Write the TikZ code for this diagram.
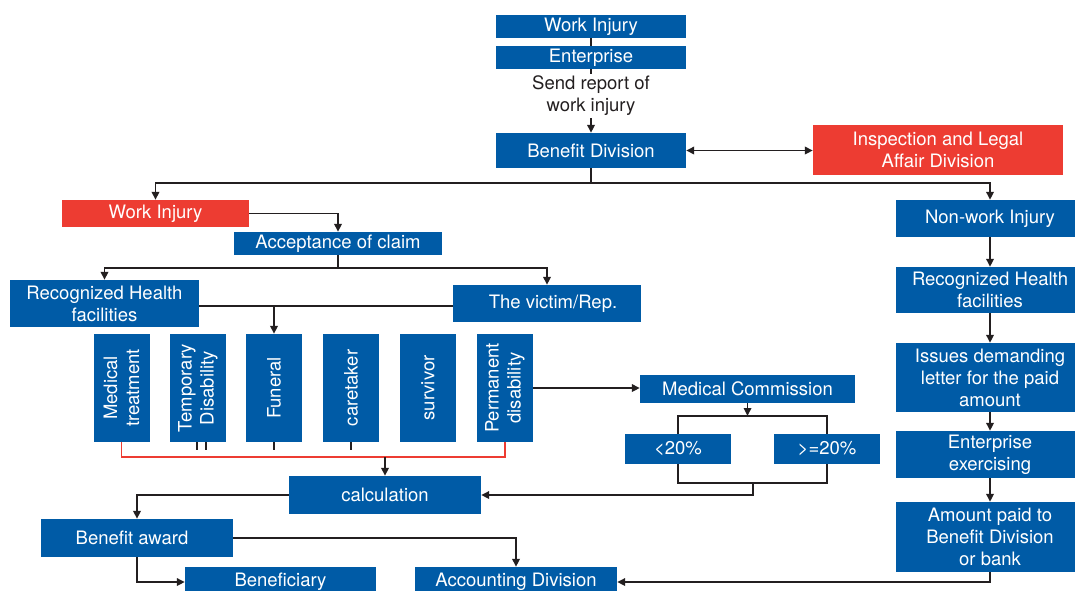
\documentclass[tikz,border=0pt]{standalone}
\usepackage{fontspec}
\setmainfont{TeX Gyre Heros}
\usetikzlibrary{arrows.meta,calc,backgrounds}
\definecolor{boxblue}{RGB}{0,91,166}
\definecolor{boxred}{RGB}{237,60,50}
\definecolor{ink}{RGB}{35,31,32}

\begin{document}
\begin{tikzpicture}[x=1pt,y=-1pt,
  font=\fontsize{18.5}{22}\selectfont,
  box/.style={fill=boxblue,text=white,inner sep=0pt,align=center},
  redbox/.style={box,fill=boxred},
  vbox/.style={box,minimum width=56pt,minimum height=108pt},
  vtext/.style={text=white,rotate=90,align=center,inner sep=0pt},
  link/.style={draw=ink,line width=1.7pt},
  arr/.style={link,-{Triangle[length=8pt,width=7.5pt]}},
  darr/.style={link,{Triangle[length=8pt,width=7.5pt]}-{Triangle[length=8pt,width=7.5pt]}},
  redlink/.style={draw=boxred,line width=1.7pt}
]
\clip (0,0) rectangle (1075,590);
\fill[white] (0,0) rectangle (1075,590);

% top chain
\node[box,minimum width=190pt,minimum height=23pt] (wi1) at (591,26.5) {Work Injury};
\node[box,minimum width=190pt,minimum height=23pt] (ent) at (591,57.5) {Enterprise};
\node[text=ink,align=center,inner sep=2pt] (rep) at (591,96) {Send report of\\work injury};
\node[box,minimum width=190pt,minimum height=35pt] (bd) at (591,150.5) {Benefit Division};
\node[redbox,minimum width=250pt,minimum height=50pt] (ila) at (938,150) {Inspection and Legal\\Affair Division};

% work injury branch
\node[redbox,minimum width=187pt,minimum height=27pt] (wi2) at (155.5,213.5) {Work Injury};
\node[box,minimum width=208pt,minimum height=23pt] (acc) at (338,243.5) {Acceptance of claim};
\node[box,minimum width=189pt,minimum height=47pt] (rhf) at (104.5,303.5) {Recognized Health\\facilities};
\node[box,minimum width=188pt,minimum height=37pt] (vic) at (547,303.5) {\hspace*{12pt}The victim/Rep.};

% benefit types
\node[vbox] (med) at (121.5,388) {};
\node[vbox] (tem) at (198,388) {};
\node[vbox] (fun) at (274,388) {};
\node[vbox] (care) at (351,388) {};
\node[vbox] (surv) at (428,388) {};
\node[vbox] (perm) at (505,388) {};
\node[vtext] at (med) {Medical\\treatment};
\node[vtext] at (tem) {Temporary\\Disability};
\node[vtext] at (fun) {Funeral};
\node[vtext] at (care) {caretaker};
\node[vtext] at (surv) {survivor};
\node[vtext] at (perm) {Permanent\\disability};

% medical commission
\node[box,minimum width=215pt,minimum height=28pt] (mc) at (747.5,389) {Medical Commission};
\node[box,minimum width=106pt,minimum height=30pt] (lt) at (678,449) {<20\%};
\node[box,minimum width=106pt,minimum height=30pt] (ge) at (827,449) {>=20\%};

% calculation and payout
\node[box,minimum width=192pt,minimum height=38pt] (calc) at (385,495) {calculation};
\node[box,minimum width=192pt,minimum height=38pt] (ba) at (137,538) {Benefit award\hspace*{10pt}};
\node[box,minimum width=191pt,minimum height=30pt] (ben) at (280.5,582) {Beneficiary};
\node[box,minimum width=202pt,minimum height=30pt] (accd) at (516,582) {Accounting Division};

% non-work injury column
\node[box,minimum width=188pt,minimum height=37pt] (nw) at (990,218.5) {Non-work Injury};
\node[box,minimum width=188pt,minimum height=46pt] (rhf2) at (990,290) {Recognized Health\\facilities};
\node[box,minimum width=188pt,minimum height=69pt] (iss) at (990,377.5) {Issues demanding\\letter for the paid\\amount};
\node[box,minimum width=188pt,minimum height=47pt] (entx) at (990,454.5) {Enterprise\\exercising};
\node[box,minimum width=188pt,minimum height=70pt] (amt) at (990,537) {Amount paid to\\Benefit Division\\or bank};

% connectors
\draw[link] (wi1) -- (ent);
\draw[link] (ent) -- (rep);
\draw[arr] (rep) -- (bd);
\draw[darr] (bd.east) -- (bd.east -| ila.west);

\coordinate (j1) at (591,183);
\draw[link] (bd) -- (j1);
\draw[arr] (j1) -| (wi2.north);
\draw[arr] (j1) -| (nw.north);

\draw[arr] (wi2.east) -| (acc.north);
\coordinate (j2) at (338,268);
\draw[link] (acc) -- (j2);
\draw[arr] (j2) -| (rhf.north);
\draw[arr] (j2) -| (vic.north);

\draw[link] ($(rhf.east)+(0,2.5)$) -- ($(vic.west)+(0,2.5)$);
\draw[arr] ($(fun.north |- rhf.east)+(0,2.5)$) -- (fun.north);

\begin{pgfonlayer}{background}
\draw[link] ($(med.north east)+(0,11)$) -- ($(perm.north west)+(0,11)$);
\end{pgfonlayer}

% short stubs under the boxes
\draw[link] ($(tem.south)+(-1,0)$) -- ++(0,8);
\draw[link] ($(tem.south)+(8,0)$) -- ++(0,8);
\draw[link] (fun.south) -- ++(0,8);
\draw[link] (care.south) -- ++(0,8);

% red collector
\draw[redlink] (med.south) -- ++(0,15) -| (perm.south);
\coordinate (j3) at (385,457);
\draw[arr] (j3) -- (calc.north);

\draw[arr] (perm.east) -- (perm.east -| mc.west);
\coordinate (j4) at (747.5,416);
\draw[arr] (mc.south) -- (j4);
\draw[link] (lt.north) |- (ge.north |- j4) -- (ge.north);
\draw[link] (lt.south) -- ++(0,19) -| (ge.south);
\coordinate (j5) at (753,483);
\draw[arr] (j5) |- (calc.east);

\draw[arr] (calc.west) -| (ba.north);
\draw[arr] (ba.east) -| (accd.north);
\draw[arr] (ba.south) |- (ben.west);

\draw[arr] (nw) -- (rhf2);
\draw[arr] (rhf2) -- (iss);
\draw[arr] (iss) -- (entx);
\draw[arr] (entx) -- (amt);
\draw[arr] (amt.south) |- (accd.east);
\end{tikzpicture}
\end{document}
